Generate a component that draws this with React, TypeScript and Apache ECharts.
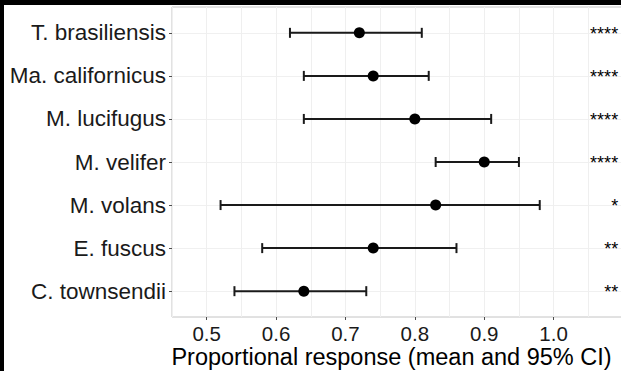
import React, { useEffect, useRef } from "react";
import * as echarts from "echarts";

const species = [
  "T. brasiliensis",
  "Ma. californicus",
  "M. lucifugus",
  "M. velifer",
  "M. volans",
  "E. fuscus",
  "C. townsendii",
];
const means = [0.72, 0.74, 0.8, 0.9, 0.83, 0.74, 0.64];
const lower = [0.62, 0.64, 0.64, 0.83, 0.52, 0.58, 0.54];
const upper = [0.81, 0.82, 0.91, 0.95, 0.98, 0.86, 0.73];
const stars = ["****", "****", "****", "****", "*", "**", "**"];
const xTicks = [0.5, 0.6, 0.7, 0.8, 0.9, 1.0];
const xTitle = "Proportional response (mean and 95% CI)";

const FONT = "'Liberation Sans', Arial, sans-serif";
const STAR_X = 1.093;

export default function App() {
  const ref = useRef<HTMLDivElement>(null);
  useEffect(() => {
    if (!ref.current) return;
    const chart = echarts.init(ref.current, null, { renderer: "svg" });
    const idx = species.map((_, i) => i + 1);
    const option: any = {
      animation: false,
      backgroundColor: "#ffffff",
      textStyle: { fontFamily: FONT },
      grid: {
        left: 172,
        right: -2,
        top: 7,
        bottom: 54,
        show: true,
        borderColor: "#c4c4c4",
        borderWidth: 1,
        containLabel: false,
        outerBoundsMode: "none",
      },
      xAxis: [
        {
          type: "value",
          min: 0.45,
          max: 1.1,
          axisLine: { show: false },
          axisTick: { show: true, length: 3, lineStyle: { color: "#4d4d4d" }, customValues: xTicks },
          axisLabel: {
            customValues: xTicks,
            formatter: (v: number) => v.toFixed(1),
            fontSize: 20.5,
            color: "#1a1a1a",
            fontFamily: FONT,
            margin: 6,
          },
          splitLine: { show: false },
          name: xTitle,
          nameLocation: "middle",
          nameGap: 28,
          nameMoveOverlap: false,
          nameTextStyle: { fontSize: 23.5, color: "#000", fontFamily: FONT, padding: [0, 12, 0, 0] },
        },
        {
          type: "value",
          min: 0.45,
          max: 1.1,
          interval: 0.05,
          position: "bottom",
          axisLine: { show: false },
          axisTick: { show: false },
          axisLabel: { show: false },
          splitLine: { show: true, lineStyle: { color: "#efefef", width: 1 } },
        },
      ],
      yAxis: {
        type: "value",
        min: 0.4,
        max: 7.6,
        inverse: true,
        axisLine: { show: false },
        axisTick: { show: true, length: 3, lineStyle: { color: "#4d4d4d" }, customValues: idx },
        axisLabel: {
          customValues: idx,
          formatter: (v: number) => species[Math.round(v) - 1] ?? "",
          fontSize: 22.5,
          color: "#1a1a1a",
          fontFamily: FONT,
          margin: 6,
        },
        splitLine: { show: true, lineStyle: { color: "#f0f0f0", width: 1 } },
      },
      series: [
        {
          type: "custom",
          xAxisIndex: 0,
          data: species.map((_, i) => [lower[i], upper[i], i + 1]),
          encode: { x: [0, 1], y: 2 },
          renderItem: (params: any, api: any) => {
            const y = api.value(2);
            const a = api.coord([api.value(0), y]);
            const b = api.coord([api.value(1), y]);
            const st = { stroke: "#1a1a1a", lineWidth: 2 };
            const h = 5;
            return {
              type: "group",
              children: [
                { type: "line", shape: { x1: a[0], y1: a[1], x2: b[0], y2: b[1] }, style: st },
                { type: "line", shape: { x1: a[0], y1: a[1] - h, x2: a[0], y2: a[1] + h }, style: st },
                { type: "line", shape: { x1: b[0], y1: b[1] - h, x2: b[0], y2: b[1] + h }, style: st },
              ],
            };
          },
          z: 2,
        },
        {
          type: "scatter",
          xAxisIndex: 0,
          data: species.map((_, i) => [means[i], i + 1]),
          symbol: "circle",
          symbolSize: 11,
          itemStyle: { color: "#000", opacity: 1 },
          z: 3,
        },
        {
          type: "custom",
          xAxisIndex: 0,
          data: species.map((_, i) => [STAR_X, i + 1, stars[i]]),
          encode: { x: 0, y: 1 },
          renderItem: (params: any, api: any) => {
            const i = params.dataIndex;
            const p = api.coord([STAR_X, i + 1]);
            return {
              type: "text",
              x: p[0],
              y: p[1] + 1,
              style: {
                text: stars[i],
                fontSize: 18,
                fontFamily: FONT,
                fill: "#000",
                align: "right",
                verticalAlign: "middle",
              },
            };
          },
          z: 3,
        },
      ],
      graphic: [
        { type: "rect", left: 0, top: 0, shape: { width: 4, height: 371 }, style: { fill: "#000" }, z: 100 },
        { type: "rect", left: 0, top: 0, shape: { width: 621, height: 5 }, style: { fill: "#000" }, z: 100 },
      ],
    };
    chart.setOption(option);
    return () => chart.dispose();
  }, []);
  return (
    <div
      ref={ref}
      style={{ position: "fixed", left: 0, top: 0, width: 621, height: 371, background: "#fff" }}
    />
  );
}
